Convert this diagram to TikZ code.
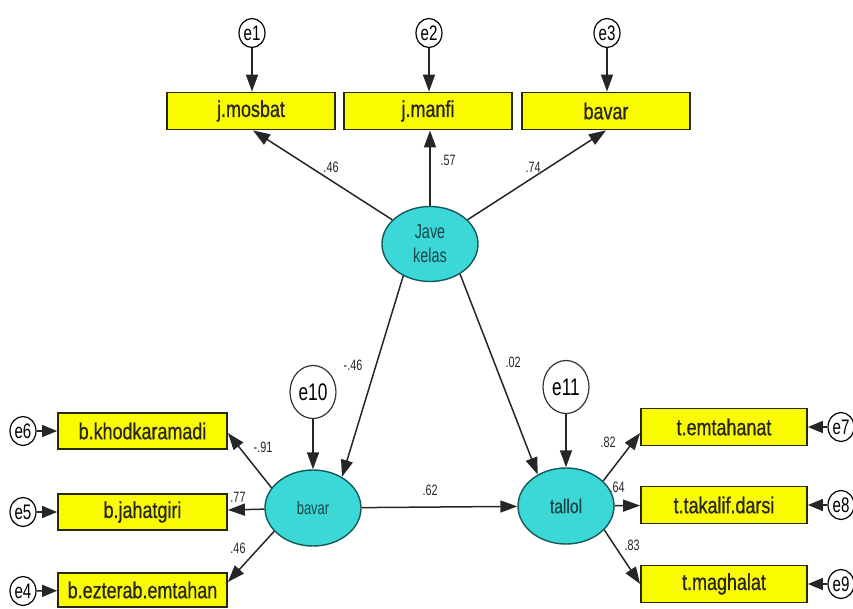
\documentclass[tikz,border=0pt]{standalone}
\usepackage{fontspec}
\setmainfont{Liberation Sans}
\newfontfamily\boxfont[FakeStretch=0.78,FakeBold=0.6]{Liberation Sans}
\newfontfamily\circfont[FakeStretch=0.72]{Liberation Sans}
\newfontfamily\lblfont[FakeStretch=0.72]{Liberation Sans}
\usetikzlibrary{arrows.meta,calc,shapes.geometric}
\definecolor{boxyellow}{RGB}{250,250,0}
\definecolor{boxedge}{RGB}{40,40,10}
\definecolor{latfill}{RGB}{60,215,215}
\definecolor{latedge}{RGB}{20,90,90}
\definecolor{lattext}{RGB}{30,70,70}
\begin{document}
\begin{tikzpicture}[x=1pt,y=-1pt,
  obs/.style={draw=boxedge, line width=1.8pt, fill=boxyellow, minimum width=168pt,
    minimum height=37pt, inner sep=0pt, text=black!85, font=\boxfont\fontsize{23}{23}\selectfont},
  errc/.style={ellipse, draw=black, line width=1.2pt, fill=white, minimum width=26pt,
    minimum height=29pt, inner sep=0pt, font=\circfont\fontsize{21}{21}\selectfont},
  errbig/.style={ellipse, draw=black!80, line width=1.2pt, fill=white, minimum width=46pt,
    minimum height=53pt, inner sep=0pt, font=\circfont\fontsize{24}{24}\selectfont},
  latent/.style={ellipse, draw=latedge, line width=1.4pt, fill=latfill, minimum width=96pt,
    minimum height=75pt, inner sep=0pt, text=lattext, align=center},
  arr/.style={draw=black!85, line width=1.5pt, -{Triangle[length=17pt,width=12pt]}},
  sarr/.style={draw=black!85, line width=1.5pt, -{Triangle[length=15pt,width=12pt]}},
  lbl/.style={font=\lblfont\fontsize{15}{15}\selectfont, text=black!85, inner sep=0pt}
]
\useasboundingbox (0,0) rectangle (853,608);

% top indicators
\node[obs] (m1) at (251,111) {j.mosbat};
\node[obs] (m2) at (428,111) {j.manfi};
\node[obs] (m3) at (606,111) {bavar};
\node[errc] (e1) at (252,33) {e1};
\node[errc] (e2) at (429,33) {e2};
\node[errc] (e3) at (607,33) {e3};

% latent variables
\node[latent, font=\circfont\fontsize{20}{24}\selectfont] (jk) at (430,244) {Jave\\kelas};
\node[latent, minimum height=76pt, font=\circfont\fontsize{18}{18}\selectfont] (bv) at (313,508) {bavar};
\node[latent, minimum height=76pt, font=\boxfont\fontsize{20}{20}\selectfont] (tl) at (566,506) {tallol};
\node[errbig] (e10) at (313,392) {e10};
\node[errbig] (e11) at (566,387) {e11};

% left indicators
\node[obs, minimum width=169pt, minimum height=36pt] (b6) at (142.5,431) {b.khodkaramadi};
\node[obs, minimum width=169pt, minimum height=36pt] (b5) at (142.5,512) {b.jahatgiri};
\node[obs, minimum width=169pt, minimum height=34pt] (b4) at (142.5,590) {b.ezterab.emtahan};
\node[errc] (e6) at (23,431) {e6};
\node[errc] (e5) at (23,512) {e5};
\node[errc] (e4) at (23,591) {e4};

% right indicators
\node[obs, minimum width=166pt] (t7) at (724,427) {t.emtahanat};
\node[obs, minimum width=166pt] (t8) at (724,505) {t.takalif.darsi};
\node[obs, minimum width=166pt] (t9) at (724,584) {t.maghalat};
\node[errc] (e7) at (841,427) {e7};
\node[errc] (e8) at (841,505) {e8};
\node[errc] (e9) at (841,584) {e9};

% error arrows
\draw[arr] (e1) -- (m1.north -| e1);
\draw[arr] (e2) -- (m2.north -| e2);
\draw[arr] (e3) -- (m3.north -| e3);
\draw[arr] (e10) -- (bv);
\draw[arr] (e11) -- (tl);
\draw[sarr] (e6) -- (b6);
\draw[sarr] (e5) -- (b5);
\draw[sarr] (e4) -- (b4);
\draw[sarr] (e7) -- (t7);
\draw[sarr] (e8) -- (t8);
\draw[sarr] (e9) -- (t9);

% structural paths
\draw[arr] (jk) -- ([xshift=2pt]m1.south);
\draw[arr] (jk) -- (m2.south -| jk);
\draw[arr] (jk) -- (m3.south);
\draw[arr] (jk.230) -- (bv.47);
\draw[arr] (jk.315) -- (tl.132);
\draw[arr] (bv) -- (tl);
\draw[arr] (bv.154) -- ([yshift=-2pt]b6.east);
\draw[arr] (bv) -- (b5);
\draw[arr] (bv.211) -- ([yshift=8pt]b4.east);
\draw[arr] (tl.34) -- ([yshift=-6pt]t7.west);
\draw[arr] (tl) -- (t8);
\draw[arr] (tl.328) -- (t9.west);

% coefficients
\node[lbl] (l1) at (331,167) {.46};
\node[lbl] (l2) at (448,160) {.57};
\node[lbl] (l3) at (533,167) {.74};
\node[lbl] (l4) at (353,365) {-.46};
\node[lbl] (l5) at (513,362) {.02};
\node[lbl] (l6) at (430,490) {.62};
\node[lbl] (l7) at (263,447) {-.91};
\node[lbl] (l8) at (238,497) {.77};
\node[lbl] (l9) at (238,548) {.46};
\node[lbl] (l10) at (608,442) {.82};
\node[lbl] (l11) at (617,487) {.64};
\node[lbl] (l12) at (632,545) {.83};
\end{tikzpicture}
\end{document}
